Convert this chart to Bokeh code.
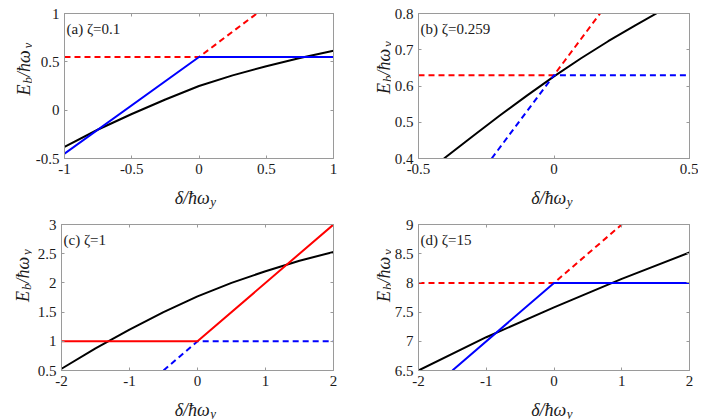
from bokeh.plotting import figure
from bokeh.models import Range1d, LinearAxis, FixedTicker, Label
from bokeh.layouts import column, row
from bokeh.embed import file_html
from bokeh.resources import INLINE
import math

SERIF = "Liberation Serif"
FRAME = "#9a9a9a"
TXT = "#1a1a1a"
RED = "#ff0000"
BLUE = "#0000ff"
BLACK = "#000000"

# ---------------- data ----------------
# panel (a) zeta = 0.1
a_title = "(a) ζ=0.1"
a_xticks = [-1, -0.5, 0, 0.5, 1]
a_xlabels = ["-1", "-0.5", "0", "0.5", "1"]
a_yticks = [-0.5, 0, 0.5, 1]
a_ylabels = ["-0.5", "0", "0.5", "1"]
a_black_x = [-1, -0.75, -0.5, -0.25, 0, 0.25, 0.5, 0.75, 1]
a_black_y = [-0.38, -0.2, -0.04, 0.11, 0.25, 0.36, 0.455, 0.54, 0.615]
a_red_x = [-1, 0, 0.43]
a_red_y = [0.55, 0.55, 1.0]
a_blue_x = [-1, 0, 1]
a_blue_y = [-0.45, 0.55, 0.55]

# panel (b) zeta = 0.259
b_title = "(b) ζ=0.259"
b_xticks = [-0.5, 0, 0.5]
b_xlabels = ["-0.5", "0", "0.5"]
b_yticks = [0.4, 0.5, 0.6, 0.7, 0.8]
b_ylabels = ["0.4", "0.5", "0.6", "0.7", "0.8"]
b_black_x = [-0.406, -0.3, -0.2, -0.1, 0, 0.1, 0.2, 0.3, 0.381]
b_black_y = [0.4, 0.4615, 0.5185, 0.5735, 0.6265, 0.6765, 0.7235, 0.7675, 0.8015]
b_red_x = [-0.5, 0, 0.17]
b_red_y = [0.63, 0.63, 0.80]
b_blue_x = [-0.23, 0, 0.5]
b_blue_y = [0.40, 0.63, 0.63]

# panel (c) zeta = 1
c_title = "(c) ζ=1"
c_xticks = [-2, -1, 0, 1, 2]
c_xlabels = ["-2", "-1", "0", "1", "2"]
c_yticks = [0.5, 1, 1.5, 2, 2.5, 3]
c_ylabels = ["0.5", "1", "1.5", "2", "2.5", "3"]
c_black_x = [-2, -1.5, -1, -0.5, 0, 0.5, 1, 1.5, 2]
c_black_y = [0.53, 0.88, 1.2, 1.5, 1.77, 2.0, 2.2, 2.38, 2.53]
c_red_x = [-2, 0, 2]
c_red_y = [1, 1, 3]
c_blue_x = [-0.5, 0, 2]
c_blue_y = [0.5, 1, 1]

# panel (d) zeta = 15
d_title = "(d) ζ=15"
d_xticks = [-2, -1, 0, 1, 2]
d_xlabels = ["-2", "-1", "0", "1", "2"]
d_yticks = [6.5, 7, 7.5, 8, 8.5, 9]
d_ylabels = ["6.5", "7", "7.5", "8", "8.5", "9"]
d_black_x = [-2, -1, 0, 1, 2]
d_black_y = [6.5, 7.07, 7.58, 8.07, 8.52]
d_red_x = [-2, 0, 1]
d_red_y = [8, 8, 9]
d_blue_x = [-1.5, 0, 2]
d_blue_y = [6.5, 8, 8]

# axis label texts
x_label_main, x_label_sub = "δ/ħω", "y"
y_label_parts = ["E", "b", "/ħω", "y"]


def style_axis(ax, ticks, labels, show, standoff):
    ax.ticker = FixedTicker(ticks=ticks)
    ax.major_tick_in = 3
    ax.major_tick_out = 0
    ax.minor_tick_line_color = None
    ax.major_tick_line_color = FRAME
    ax.axis_line_color = FRAME
    if show:
        ax.major_label_overrides = {t: l for t, l in zip(ticks, labels)}
        ax.major_label_text_font = SERIF
        ax.major_label_text_font_size = "15px"
        ax.major_label_text_color = TXT
        ax.major_label_standoff = standoff
    else:
        ax.major_label_text_font_size = "0px"
        ax.major_label_text_color = None
        ax.major_label_standoff = 0


def panel(title, xr, yr, xt, xl, yt, yl, lines, w, h, borders):
    bl, br, bt, bb = borders
    p = figure(width=w, height=h, x_range=Range1d(*xr), y_range=Range1d(*yr),
               output_backend="svg", toolbar_location=None,
               min_border_left=bl, min_border_right=br,
               min_border_top=bt, min_border_bottom=bb)
    p.grid.visible = False
    p.outline_line_color = FRAME
    p.background_fill_color = "white"
    p.border_fill_color = "white"
    style_axis(p.xaxis[0], xt, xl, True, 5)
    style_axis(p.yaxis[0], yt, yl, True, 5)
    top = LinearAxis()
    style_axis(top, xt, xl, False, 0)
    p.add_layout(top, "above")
    right = LinearAxis()
    style_axis(right, yt, yl, False, 0)
    p.add_layout(right, "right")
    for xs, ys, col, dash in lines:
        p.line(xs, ys, line_color=col, line_width=2, line_dash=dash)
    p.add_layout(Label(x=xr[0], y=yr[1], x_offset=2, y_offset=-15, text=title,
                       text_font=SERIF, text_font_size="15px", text_color=TXT,
                       text_baseline="alphabetic"))
    return p


def blank(w, h):
    p = figure(width=w, height=h, x_range=Range1d(0, 1), y_range=Range1d(0, 1),
               output_backend="svg", toolbar_location=None,
               x_axis_type=None, y_axis_type=None,
               min_border_left=0, min_border_right=0,
               min_border_top=0, min_border_bottom=0)
    p.grid.visible = False
    p.outline_line_color = None
    p.background_fill_color = "white"
    p.border_fill_color = "white"
    return p


def txt(p, x, y, text, size, align="left", angle=0.0):
    p.add_layout(Label(x=x, y=y, x_units="screen", y_units="screen", text=text,
                       text_font=SERIF, text_font_style="italic",
                       text_font_size=size, text_color=TXT,
                       text_align=align, text_baseline="alphabetic",
                       angle=angle))


def y_label(p, base_x, start_y):
    a = math.pi / 2
    E, b, mid, y = y_label_parts
    txt(p, base_x, start_y, E, "18px", "left", a)
    txt(p, base_x + 4, start_y + 12, b, "13px", "left", a)
    txt(p, base_x, start_y + 18.5, mid, "18px", "left", a)
    txt(p, base_x + 4, start_y + 47, y, "13px", "left", a)


def x_label(p, junction_x, base_y):
    txt(p, junction_x, base_y, x_label_main, "18px", "right")
    txt(p, junction_x + 0.5, base_y - 3.5, x_label_sub, "13px", "left")


pa = panel(a_title, (-1, 1), (-0.5, 1), a_xticks, a_xlabels, a_yticks, a_ylabels,
           [(a_black_x, a_black_y, BLACK, "solid"),
            (a_red_x, a_red_y, RED, "6 4"),
            (a_blue_x, a_blue_y, BLUE, "solid")],
           311, 181, (29, 10, 13, 23))
pb = panel(b_title, (-0.5, 0.5), (0.4, 0.8), b_xticks, b_xlabels, b_yticks, b_ylabels,
           [(b_black_x, b_black_y, BLACK, "solid"),
            (b_red_x, b_red_y, RED, "6 4"),
            (b_blue_x, b_blue_y, BLUE, "6 4")],
           307, 181, (27, 9, 13, 23))
pc = panel(c_title, (-2, 2), (0.5, 3), c_xticks, c_xlabels, c_yticks, c_ylabels,
           [(c_black_x, c_black_y, BLACK, "solid"),
            (c_blue_x, c_blue_y, BLUE, "6 4"),
            (c_red_x, c_red_y, RED, "solid")],
           311, 179, (29, 10, 10, 23))
pd_ = panel(d_title, (-2, 2), (6.5, 9), d_xticks, d_xlabels, d_yticks, d_ylabels,
            [(d_black_x, d_black_y, BLACK, "solid"),
             (d_red_x, d_red_y, RED, "6 4"),
             (d_blue_x, d_blue_y, BLUE, "solid")],
            307, 179, (27, 9, 10, 23))

# y-label strips
ya = blank(32, 181)
y_label(ya, 23.3, 63)
yb = blank(48, 181)
y_label(yb, 40.3, 64.5)
yc = blank(32, 179)
y_label(yc, 22.3, 68.5)
yd = blank(48, 179)
y_label(yd, 40.3, 68.5)

# x-label strips
xa = blank(698, 33)
x_label(xa, 209.3, 17)
x_label(xa, 565.8, 17)
xc = blank(698, 26)
x_label(xc, 209.3, 10)
x_label(xc, 565.8, 10)

layout = column(row(ya, pa, yb, pb), xa, row(yc, pc, yd, pd_), xc)
open("out.html", "w").write(file_html(layout, INLINE))
